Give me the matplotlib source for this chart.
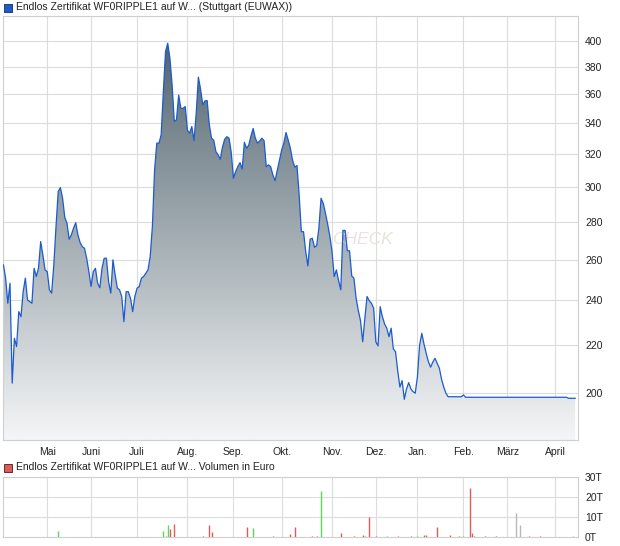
import matplotlib
matplotlib.use("Agg")
import matplotlib.pyplot as plt
import matplotlib.ticker as mticker
from matplotlib.colors import LinearSegmentedColormap
from matplotlib.patches import Rectangle
import numpy as np
import pandas as pd

plt.rcParams['font.family'] = ['Liberation Sans', 'DejaVu Sans']

title_price = "Endlos Zertifikat WF0RIPPLE1 auf W... (Stuttgart (EUWAX))"
title_volume = "Endlos Zertifikat WF0RIPPLE1 auf W... Volumen in Euro"

# trading days (no exchange on these)
holidays = ["2025-04-18", "2025-04-21", "2025-05-01", "2025-05-29", "2025-12-24",
            "2025-12-25", "2025-12-26", "2025-12-31", "2026-01-01", "2026-04-03", "2026-04-06"]
month_names = ["Mai", "Juni", "Juli", "Aug.", "Sep.", "Okt.", "Nov.", "Dez.",
               "Jan.", "Feb.", "März", "April"]

# closing prices, one per trading day
price = [
    257.3, 250.7, 238.6, 248.2, 203.9, 222.7, 219.1, 234.7, 232.4, 244.1,
    250.7, 240.2, 239.4, 238.6, 255.6, 251.5, 255.6, 269.4, 262.4, 254.8,
    253.9, 245.0, 243.4, 257.3, 277.5, 297.3, 299.6, 293.4, 282.6, 279.3,
    270.7, 273.0, 276.6, 279.6, 273.0, 268.9, 266.7, 265.9, 260.7, 253.9,
    246.6, 253.9, 255.6, 248.2, 246.0, 255.6, 260.7, 260.7, 249.0, 243.4,
    259.9, 252.3, 245.8, 245.0, 241.8, 230.1, 244.1, 244.1, 241.0, 234.7,
    241.8, 245.8, 246.6, 250.7, 251.5, 253.1, 254.8, 261.6, 277.5, 310.0,
    327.0, 327.0, 332.4, 361.9, 391.6, 398.1, 386.5, 366.8, 341.3, 342.4,
    359.5, 350.2, 350.2, 351.4, 335.4, 333.5, 337.9, 328.7, 346.8, 372.4,
    363.6, 352.6, 355.4, 355.6, 339.0, 330.2, 328.9, 321.6, 319.5, 316.8,
    324.4, 329.5, 331.2, 330.2, 321.0, 305.2, 309.2, 312.2, 314.7, 310.7,
    327.6, 323.7, 325.8, 331.7, 336.6, 330.2, 327.0, 328.5, 330.2, 328.5,
    312.2, 313.3, 312.2, 307.2, 303.7, 309.8, 316.2, 322.5, 327.0, 333.9,
    329.0, 323.7, 316.2, 311.9, 312.9, 295.3, 274.7, 274.7, 264.1, 256.8,
    270.7, 271.2, 266.4, 267.3, 276.6, 293.4, 290.5, 284.9, 278.9, 272.4,
    264.1, 251.5, 254.8, 249.5, 245.0, 275.4, 275.4, 264.6, 264.6, 251.8,
    250.7, 241.0, 235.2, 230.6, 221.2, 231.7, 241.8, 239.8, 238.6, 236.3,
    221.2, 219.4, 237.0, 232.4, 229.1, 227.2, 223.4, 227.2, 218.1, 216.9,
    208.9, 202.3, 204.9, 197.5, 201.5, 204.1, 201.6, 200.5, 199.9, 206.5,
    219.8, 224.9, 220.1, 216.2, 212.7, 210.4, 212.5, 214.1, 212.0, 210.0,
    205.5, 202.3, 199.9, 198.5, 198.5, 198.5, 198.5, 198.5, 198.5, 198.5,
    199.2, 198.3, 198.3, 198.3, 198.3, 198.3, 198.3, 198.3, 198.3, 198.3,
    198.3, 198.3, 198.3, 198.3, 198.3, 198.3, 198.3, 198.3, 198.3, 198.3,
    198.3, 198.3, 198.3, 198.3, 198.3, 198.3, 198.3, 198.3, 198.3, 198.3,
    198.3, 198.3, 198.3, 198.3, 198.3, 198.3, 198.3, 198.3, 198.3, 198.3,
    198.3, 198.3, 198.3, 198.3, 198.3, 198.3, 198.3, 198.3, 197.9, 197.9,
    197.9, 197.9,
]
price_ticks = [200, 220, 240, 260, 280, 300, 320, 340, 360, 380, 400]

# volume bars: trading day number, euro, colour kind
vol_day = [25, 73, 74, 75, 76, 78, 91, 94, 95, 111, 114, 123, 131, 133, 141, 143, 145,
           154, 160, 164, 165, 167, 170, 175, 180, 186, 189, 192, 193, 198, 204, 208,
           210, 213, 214, 215, 220, 225, 234, 236, 240, 245, 260]
vol_euro = [3100, 3100, 500, 6200, 4100, 6700, 500, 6200, 2600, 5200, 4700, 500, 1600,
            5200, 500, 500, 22800, 2100, 500, 1000, 300, 9800, 500, 500, 500, 500, 500,
            1000, 1000, 5200, 1000, 500, 300, 24300, 2100, 500, 500, 500, 12000, 6200,
            300, 500, 500]
vol_kind = ["g", "g", "g", "g", "r", "r", "r", "r", "r", "r", "g", "r", "r", "r", "r",
            "r", "g", "r", "r", "r", "g", "r", "r", "g", "r", "r", "g", "r", "r", "r",
            "r", "r", "g", "r", "r", "r", "r", "r", "n", "n", "r", "r", "n"]
vol_ticks = [0, 10000, 20000, 30000]

days = pd.bdate_range("2025-04-01", "2026-04-30")
days = days[~days.isin(pd.to_datetime(holidays))][:len(price)]
x = np.arange(len(price))
month_pos = [i for i in range(1, len(days)) if days[i].month != days[i - 1].month]

W, H = 620, 546
fig = plt.figure(figsize=(W / 100, H / 100), dpi=100)
ax = fig.add_axes([3 / W, 1 - 440 / H, 575 / W, 424 / H])
axv = fig.add_axes([3 / W, 1 - 537 / H, 575 / W, 60 / H])

grid_col = "#dcdcdc"
text_col = "#222222"

# price panel
ax.set_yscale("log")
poly = ax.fill_between(x, price, 100, color="none", lw=0)
cmap = LinearSegmentedColormap.from_list("fill", [
    (0.0, "#f4f5f6"), (0.1, "#e4e7e9"), (0.33, "#bcc3c7"), (0.52, "#9ca7ad"),
    (0.74, "#78868e"), (0.94, "#52626d"), (1.0, "#4a5a66")])
grad = np.linspace(0, 1, 256).reshape(-1, 1)
im = ax.imshow(grad, extent=[0, 1, 0, 1], transform=ax.transAxes, origin="lower",
               aspect="auto", cmap=cmap, zorder=1)
im.set_clip_path(poly.get_paths()[0], transform=ax.transData)
ax.plot(x, price, color="#1b5bd0", lw=0.9, zorder=3)

ax.text(0.625, 0.472, "CHECK", transform=ax.transAxes, fontsize=12.5, style="italic",
        color="#e6e0d8", ha="center", va="center", zorder=2, alpha=0.9)

ax.set_xlim(-0.2, 262.3)
ax.set_ylim(182.3, 420)
ax.set_xticks(month_pos)
ax.set_xticklabels(month_names)
ax.yaxis.set_major_locator(mticker.FixedLocator(price_ticks))
ax.yaxis.set_minor_locator(mticker.NullLocator())
ax.yaxis.set_major_formatter(mticker.StrMethodFormatter("{x:.0f}"))
ax.yaxis.tick_right()
ax.tick_params(length=0, labelsize=7.5, colors=text_col)
ax.tick_params(axis="y", pad=5)
ax.tick_params(axis="x", pad=5)
ax.set_axisbelow(True)
ax.grid(True, color=grid_col, lw=0.8)
for s in ax.spines.values():
    s.set_color("#cfcfcf")
    s.set_linewidth(0.8)

# volume panel
colors = {"r": "#e05a5a", "g": "#5ad85a", "n": "#b8b8b8"}
axv.vlines(vol_day, 0, vol_euro, colors=[colors[k] for k in vol_kind], lw=1.0, zorder=3)
axv.set_xlim(-0.2, 262.3)
axv.set_ylim(0, 30000)
axv.set_xticks(month_pos)
axv.set_xticklabels([])
axv.set_yticks(vol_ticks)
axv.set_yticklabels([f"{v // 1000}T" for v in vol_ticks])
axv.yaxis.tick_right()
axv.tick_params(length=0, labelsize=7.5, colors=text_col)
axv.tick_params(axis="y", pad=5)
axv.set_axisbelow(True)
axv.grid(True, color=grid_col, lw=0.8)
for s in axv.spines.values():
    s.set_color("#cfcfcf")
    s.set_linewidth(0.8)

# legend lines
fig.add_artist(Rectangle((4 / W, 1 - 12 / H), 8 / W, 8 / H, transform=fig.transFigure,
                         facecolor="#1b5bd0", edgecolor="#1d2a4a", lw=0.6))
fig.text(16 / W, 1 - 7.5 / H, title_price, fontsize=7.5, color=text_col, va="center")
fig.add_artist(Rectangle((4 / W, 1 - 472 / H), 8 / W, 8 / H, transform=fig.transFigure,
                         facecolor="#e05a5a", edgecolor="#4a1d1d", lw=0.6))
fig.text(16 / W, 1 - 467.5 / H, title_volume, fontsize=7.5, color=text_col, va="center")

fig.savefig("out.png", dpi=100)
